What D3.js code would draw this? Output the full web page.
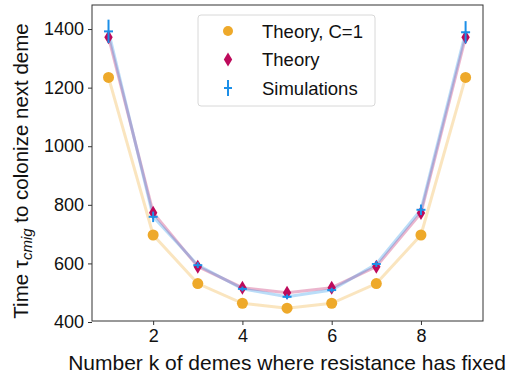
<!DOCTYPE html>
<html>
<head>
<meta charset="utf-8">
<script src="https://cdn.jsdelivr.net/npm/d3@7"></script>
<style>
  body { margin: 0; background: #fff; }
  text { font-family: Arial, "Liberation Sans", sans-serif; fill: #111; }
</style>
</head>
<body>
<svg id="chart" width="509" height="373"></svg>
<script>
// number of demes where resistance has fixed
var demes = [1, 2, 3, 4, 5, 6, 7, 8, 9];
var theoryC1 = [1235, 697, 531, 464, 447, 464, 531, 697, 1235];
var theory = [1372, 773, 589, 517, 500, 517, 589, 772, 1372];
var simulations = [1392, 759, 594, 513, 486, 509, 598, 783, 1389];
var simErr = [40, 18, 10, 8, 8, 8, 10, 18, 38];
var xTicks = [2, 4, 6, 8];
var yTicks = [400, 600, 800, 1000, 1200, 1400];

var orange = '#eea92a', crimson = '#bd0a5b', blue = '#1c8fe8';

var svg = d3.select('#chart');
// plot box edges (don't use "top", it clashes with window.top)
var pLeft = 92, pRight = 483, pTop = 5, pBottom = 321;

var x = d3.scaleLinear().domain([0.63, 9.39]).range([pLeft, pRight]);
var y = d3.scaleLinear().domain([400, 1480]).range([322, 5.6]);

// axes
var xAxis = d3.axisBottom(x).tickValues(xTicks).tickSize(4).tickPadding(4).tickFormat(d3.format('d'));
var yAxis = d3.axisLeft(y).tickValues(yTicks).tickSize(4).tickPadding(4).tickFormat(d3.format('d'));

svg.append('g').attr('transform', 'translate(0,' + pBottom + ')').call(xAxis)
  .call(function(g) { g.select('.domain').remove(); })
  .selectAll('text').style('font-size', '18px');
svg.append('g').attr('transform', 'translate(' + pLeft + ',0)').call(yAxis)
  .call(function(g) { g.select('.domain').remove(); })
  .selectAll('text').style('font-size', '18px');
svg.selectAll('.tick line').attr('stroke', '#333');

svg.append('rect')
  .attr('x', pLeft).attr('y', pTop)
  .attr('width', pRight - pLeft).attr('height', pBottom - pTop)
  .attr('fill', 'none').attr('stroke', '#333').attr('stroke-width', 1);

var line = d3.line().x(function(d) { return x(d[0]); }).y(function(d) { return y(d[1]); });
function pairs(vals) { return demes.map(function(k, i) { return [k, vals[i]]; }); }

var plot = svg.append('g');

// lines (translucent)
plot.append('path').datum(pairs(theoryC1)).attr('d', line)
  .attr('fill', 'none').attr('stroke', orange).attr('stroke-opacity', 0.3).attr('stroke-width', 3);
plot.append('path').datum(pairs(theory)).attr('d', line)
  .attr('fill', 'none').attr('stroke', crimson).attr('stroke-opacity', 0.3).attr('stroke-width', 3);
plot.append('path').datum(pairs(simulations)).attr('d', line)
  .attr('fill', 'none').attr('stroke', blue).attr('stroke-opacity', 0.3).attr('stroke-width', 3);

// orange circles
plot.selectAll('.c1').data(pairs(theoryC1)).enter().append('circle')
  .attr('cx', function(d) { return x(d[0]); })
  .attr('cy', function(d) { return y(d[1]); })
  .attr('r', 5.5).attr('fill', orange);

// diamonds
var diamond = 'M0,-7 L4.2,0 L0,7 L-4.2,0 Z';
plot.selectAll('.th').data(pairs(theory)).enter().append('path')
  .attr('d', diamond)
  .attr('transform', function(d) { return 'translate(' + x(d[0]) + ',' + y(d[1]) + ')'; })
  .attr('fill', crimson);

// simulation error bars
var sim = plot.selectAll('.sim').data(demes).enter().append('g');
sim.append('line')
  .attr('x1', function(d) { return x(d); }).attr('x2', function(d) { return x(d); })
  .attr('y1', function(d, i) { return y(simulations[i] - simErr[i]); })
  .attr('y2', function(d, i) { return y(simulations[i] + simErr[i]); })
  .attr('stroke', blue).attr('stroke-width', 2);
sim.append('line')
  .attr('x1', function(d) { return x(d) - 4.5; }).attr('x2', function(d) { return x(d) + 4.5; })
  .attr('y1', function(d, i) { return y(simulations[i]); })
  .attr('y2', function(d, i) { return y(simulations[i]); })
  .attr('stroke', blue).attr('stroke-width', 2);

// axis titles
svg.append('text').attr('x', 287).attr('y', 370)
  .attr('text-anchor', 'middle').style('font-size', '21px')
  .text('Number k of demes where resistance has fixed');

var yt = svg.append('text')
  .attr('transform', 'translate(28,171) rotate(-90)')
  .attr('text-anchor', 'middle').style('font-size', '20.5px');
yt.append('tspan').text('Time \u03c4');
yt.append('tspan').attr('dy', 4).style('font-size', '15px').style('font-style', 'italic').text('cmig');
yt.append('tspan').attr('dy', -4).text(' to colonize next deme');

// legend
var lg = svg.append('g').attr('transform', 'translate(198,15)');
lg.append('rect').attr('width', 177).attr('height', 91).attr('rx', 3)
  .attr('fill', '#fff').attr('fill-opacity', 0.85).attr('stroke', '#d8d8d8');
var names = ['Theory, C=1', 'Theory', 'Simulations'];
names.forEach(function(n, i) {
  var cy = 16 + i * 28.5;
  var g = lg.append('g').attr('transform', 'translate(30,' + cy + ')');
  if (i === 0) g.append('circle').attr('r', 5).attr('fill', orange);
  if (i === 1) g.append('path').attr('d', diamond).attr('fill', crimson);
  if (i === 2) {
    g.append('line').attr('y1', -8).attr('y2', 8).attr('stroke', blue).attr('stroke-width', 2);
    g.append('line').attr('x1', -4).attr('x2', 4).attr('stroke', blue).attr('stroke-width', 2);
  }
  lg.append('text').attr('x', 64).attr('y', cy + 6.5).style('font-size', '18.5px').text(n);
});
</script>
</body>
</html>
